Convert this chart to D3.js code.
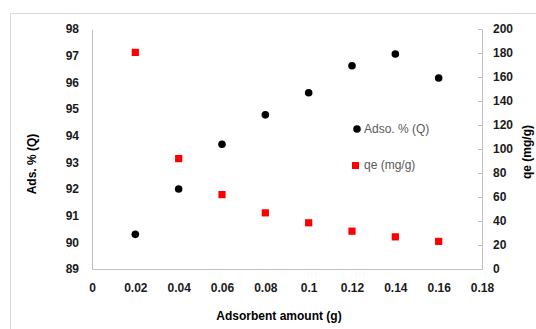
<!DOCTYPE html>
<html>
<head>
<meta charset="utf-8">
<script src="https://cdn.jsdelivr.net/npm/d3@7"></script>
<style>
  body { margin: 0; background: #fff; }
  svg { font-family: "Liberation Sans", Arial, sans-serif; }
  .tick text { font-size: 12px; font-weight: bold; fill: #1a1a1a; }
</style>
</head>
<body>
<svg id="chart" width="536" height="329"></svg>
<script>
// data
const amounts = [0.02, 0.04, 0.06, 0.08, 0.1, 0.12, 0.14, 0.16];
const adsPercent = [90.3, 92.0, 93.68, 94.78, 95.61, 96.62, 97.06, 96.16];
const qe = [180.5, 92, 62, 46.8, 38.5, 31.5, 26.8, 23];
const xTicks = [0, 0.02, 0.04, 0.06, 0.08, 0.1, 0.12, 0.14, 0.16, 0.18];
const leftTicks = [89, 90, 91, 92, 93, 94, 95, 96, 97, 98];
const rightTicks = [0, 20, 40, 60, 80, 100, 120, 140, 160, 180, 200];
const legendLabels = ["Adso. % (Q)", "qe (mg/g)"];

const svg = d3.select("#chart");
const plotLeft = 92, plotRight = 482, plotTop = 29, plotBottom = 269;
const axisColor = "#bfbfbf";

// chart frame
svg.append("rect")
    .attr("x", 10.5).attr("y", 13.5)
    .attr("width", 540).attr("height", 340)
    .attr("fill", "none").attr("stroke", "#d9d9d9");

const x = d3.scaleLinear().domain([0, 0.18]).range([plotLeft, plotRight]);
const yL = d3.scaleLinear().domain([89, 98]).range([plotBottom, plotTop]);
const yR = d3.scaleLinear().domain([0, 200]).range([plotBottom, plotTop]);

// bottom axis
const gx = svg.append("g")
    .attr("transform", `translate(0, ${plotBottom})`)
    .call(d3.axisBottom(x).tickValues(xTicks).tickSize(0).tickPadding(14)
        .tickFormat(d => d3.format("~g")(+d.toFixed(2))));
gx.select(".domain").attr("stroke", axisColor);

// left axis
const gl = svg.append("g")
    .attr("transform", `translate(${plotLeft}, 0)`)
    .call(d3.axisLeft(yL).tickValues(leftTicks).tickSize(0).tickPadding(13));
gl.select(".domain").attr("stroke", axisColor);

// right axis, tick marks sit inside
const gr = svg.append("g")
    .attr("transform", `translate(${plotRight}, 0)`)
    .call(d3.axisRight(yR).tickValues(rightTicks).tickSizeInner(-4).tickSizeOuter(0).tickPadding(11));
gr.select(".domain").attr("stroke", axisColor);
gr.selectAll(".tick line").attr("stroke", axisColor);
gr.selectAll(".tick text").attr("x", 11);

// series
svg.append("g").selectAll("circle")
    .data(amounts)
    .join("circle")
    .attr("cx", d => x(d))
    .attr("cy", (d, i) => yL(adsPercent[i]))
    .attr("r", 3.8)
    .attr("fill", "#000");

svg.append("g").selectAll("rect")
    .data(amounts)
    .join("rect")
    .attr("x", d => x(d) - 3.6)
    .attr("y", (d, i) => yR(qe[i]) - 3.6)
    .attr("width", 7.2).attr("height", 7.2)
    .attr("fill", "#ff0000");

// legend
const legend = svg.append("g");
legend.append("circle").attr("cx", 357).attr("cy", 129).attr("r", 3.8).attr("fill", "#000");
legend.append("rect").attr("x", 352).attr("y", 162).attr("width", 7).attr("height", 7).attr("fill", "#ff0000");
legend.selectAll("text")
    .data(legendLabels)
    .join("text")
    .attr("x", 364)
    .attr("y", (d, i) => 133 + i * 36)
    .attr("font-size", 12)
    .attr("fill", "#595959")
    .text(d => d);

// axis titles
svg.append("text")
    .attr("transform", "translate(36, 164) rotate(-90)")
    .attr("text-anchor", "middle")
    .attr("font-size", 12).attr("font-weight", "bold")
    .text("Ads. % (Q)");

svg.append("text")
    .attr("transform", "translate(531, 152) rotate(-90)")
    .attr("text-anchor", "middle")
    .attr("font-size", 12).attr("font-weight", "bold")
    .text("qe (mg/g)");

svg.append("text")
    .attr("x", 279).attr("y", 320)
    .attr("text-anchor", "middle")
    .attr("font-size", 12).attr("font-weight", "bold")
    .text("Adsorbent amount (g)");
</script>
</body>
</html>
